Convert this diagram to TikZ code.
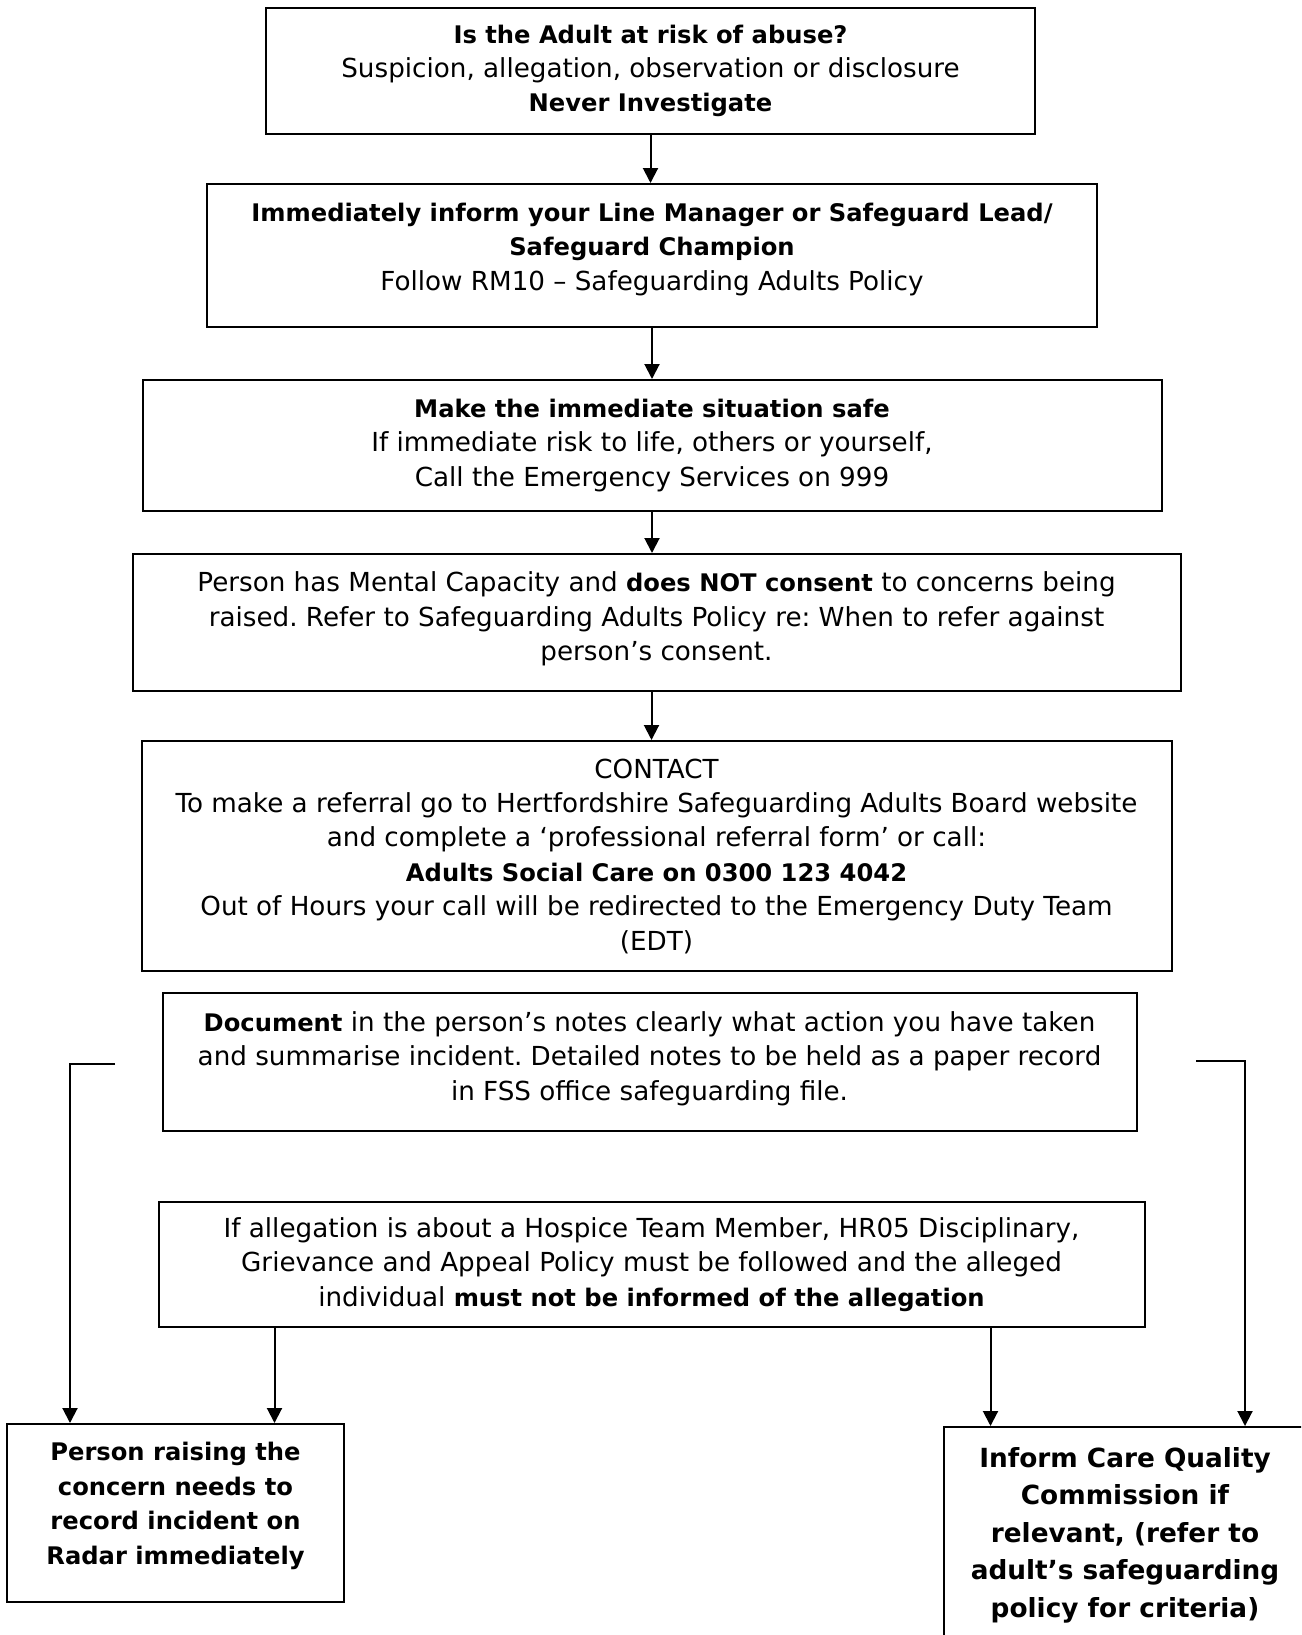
\documentclass[tikz,border=0pt]{standalone}
\usepackage{fontspec}
\setmainfont{DejaVu Sans}[BoldFeatures={Scale=0.924}]
\usepackage{tikz}
\usetikzlibrary{arrows.meta,positioning,calc}
\newcommand{\txtsize}{\fontsize{26.2}{34.4}\selectfont}
\newcommand{\bigsize}{\fontsize{28.5}{37.5}\selectfont}
\frenchspacing

\begin{document}
\begin{tikzpicture}[
        x=1pt, y=-1pt,
        node distance=49pt,
        flowbox/.style={rectangle, draw, line width=2pt, align=center, inner sep=0pt, font=\txtsize},
        sidebox/.style={rectangle, draw, line width=2pt, align=center, inner sep=0pt, font=\txtsize\bfseries},
        arrow/.style={-{Triangle[width=15pt,length=15pt]}, line width=2pt}
    ]
        \useasboundingbox (0,0) rectangle (1301,1635);
        \clip (0,0) rectangle (1301,1635);

        % Question
        \node[flowbox, minimum width=769pt, minimum height=126pt] (ask) at (650.5,71) {\textbf{Is the Adult at risk of abuse?}\\Suspicion, allegation, observation or disclosure\\\textbf{Never Investigate}};

        % Inform manager
        \node[flowbox, minimum width=890pt, minimum height=143pt, below=48pt of ask, xshift=1.5pt] (inform) {\textbf{Immediately inform your Line Manager or Safeguard Lead/}\\\textbf{Safeguard Champion}\\Follow RM10 -- Safeguarding Adults Policy\\[-17pt]};

        % Make safe
        \node[flowbox, minimum width=1019pt, minimum height=131pt, below=51pt of inform] (safe) {\textbf{Make the immediate situation safe}\\If immediate risk to life, others or yourself,\\Call the Emergency Services on 999};

        % Consent
        \node[flowbox, minimum width=1048pt, minimum height=137pt, below=41pt of safe, xshift=4.5pt] (consent) {Person has Mental Capacity and \textbf{does NOT consent} to concerns being\\raised. Refer to Safeguarding Adults Policy re: When to refer against\\person’s consent.\\[-22pt]};

        % Contact
        \node[flowbox, minimum width=1030pt, minimum height=230pt, below=48pt of consent] (contact) {CONTACT\\To make a referral go to Hertfordshire Safeguarding Adults Board website\\and complete a ‘professional referral form’ or call:\\\textbf{Adults Social Care on 0300 123 4042}\\Out of Hours your call will be redirected to the Emergency Duty Team\\(EDT)};

        % Document
        \node[flowbox, minimum width=974pt, minimum height=138pt, below=20pt of contact, xshift=-7pt] (document) {\textbf{Document} in the person’s notes clearly what action you have taken\\and summarise incident. Detailed notes to be held as a paper record\\in FSS office safeguarding file.\\[-22pt]};

        % Allegation about team member
        \node[flowbox, minimum width=986pt, minimum height=125pt, below=69pt of document, xshift=2pt] (allege) {If allegation is about a Hospice Team Member, HR05 Disciplinary,\\Grievance and Appeal Policy must be followed and the alleged\\individual \textbf{must not be informed of the allegation}};

        % Outcomes
        \node[sidebox, minimum width=337pt, minimum height=178pt] (radar) at (175.5,1513) {Person raising the\\concern needs to\\record incident on\\Radar immediately\\[-15pt]};
        \node[sidebox, font=\bigsize\bfseries, minimum width=362pt, minimum height=260pt, anchor=north west] (cqc) at (943,1426) {Inform Care Quality\\Commission if\\relevant, (refer to\\adult’s safeguarding\\policy for criteria)\\[12pt]};

        % Side links
        \coordinate (lstart) at (115,1064);
        \coordinate (lcorner) at (70,1064);
        \coordinate (rstart) at (1196,1061);
        \coordinate (rcorner) at (1245,1061);

        % Arrows
        \draw[arrow] (ask.south) -- (ask.south |- inform.north);
        \draw[arrow] (inform.south) -- (inform.south |- safe.north);
        \draw[arrow] (safe.south) -- (safe.south |- consent.north);
        \draw[arrow] ([xshift=-5pt]consent.south) -- ([xshift=-5pt]consent.south |- contact.north);
        \draw[arrow] ([xshift=117pt]allege.south west) -- ([xshift=117pt]allege.south west |- radar.north);
        \draw[arrow] ([xshift=-155pt]allege.south east) -- ([xshift=-155pt]allege.south east |- cqc.north);
        \draw[arrow] (lstart) -- (lcorner) -- (lcorner |- radar.north);
        \draw[arrow] (rstart) -- (rcorner) -- (rcorner |- cqc.north);

    \end{tikzpicture}
\end{document}
